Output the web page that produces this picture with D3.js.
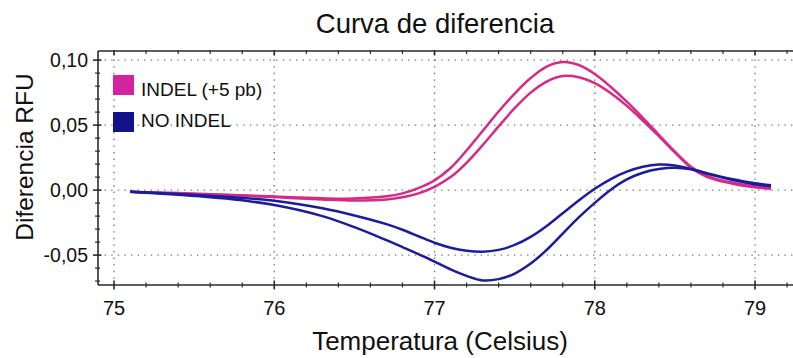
<!DOCTYPE html>
<html>
<head>
<meta charset="utf-8">
<script src="https://cdn.jsdelivr.net/npm/d3@7"></script>
<style>
  html, body { margin: 0; padding: 0; background: #fff; }
  svg { display: block; font-family: "Liberation Sans", Arial, sans-serif; }
</style>
</head>
<body>
<svg id="chart" width="793" height="358"></svg>
<script>
// Melt temperatures (°C) shared by all traces
const temps = [75.1, 75.4, 75.7, 76.0, 76.3, 76.5, 76.7, 76.8, 76.9, 77.0,
  77.1, 77.2, 77.3, 77.4, 77.5, 77.6, 77.7, 77.8, 77.9, 78.0,
  78.1, 78.2, 78.3, 78.4, 78.5, 78.6, 78.7, 78.8, 78.9, 79.0, 79.1];

// INDEL (+5 pb) replicates
const indelA = [-0.0013, -0.0023, -0.0035, -0.0050, -0.0063, -0.0065, -0.0048, -0.0025, 0.0015, 0.0075,
  0.0170, 0.0305, 0.0455, 0.0605, 0.0742, 0.0862, 0.0950, 0.0985, 0.0962, 0.0893,
  0.0793, 0.0680, 0.0556, 0.0425, 0.0295, 0.0180, 0.0110, 0.0072, 0.0048, 0.0030, 0.0015];
const indelB = [-0.0013, -0.0027, -0.0038, -0.0054, -0.0072, -0.0080, -0.0072, -0.0055, -0.0025, 0.0025,
  0.0100, 0.0210, 0.0345, 0.0490, 0.0630, 0.0750, 0.0835, 0.0877, 0.0868, 0.0822,
  0.0745, 0.0648, 0.0535, 0.0415, 0.0290, 0.0172, 0.0102, 0.0065, 0.0040, 0.0022, 0.0010];

// NO INDEL replicates
const noIndelA = [-0.0013, -0.0030, -0.0052, -0.0082, -0.0140, -0.0195, -0.0262, -0.0305, -0.0355, -0.0405,
  -0.0443, -0.0466, -0.0474, -0.0460, -0.0422, -0.0360, -0.0276, -0.0178, -0.0080, 0.0010,
  0.0085, 0.0142, 0.0180, 0.0197, 0.0190, 0.0163, 0.0130, 0.0100, 0.0075, 0.0053, 0.0037];
const noIndelB = [-0.0013, -0.0036, -0.0065, -0.0115, -0.0200, -0.0285, -0.0385, -0.0438, -0.0492, -0.0550,
  -0.0610, -0.0660, -0.0695, -0.0685, -0.0642, -0.0565, -0.0460, -0.0335, -0.0210, -0.0098,
  0.0003, 0.0082, 0.0133, 0.0162, 0.0172, 0.0160, 0.0127, 0.0095, 0.0068, 0.0045, 0.0029];

const xTicks = [75, 76, 77, 78, 79];
const yTicks = [-0.05, 0, 0.05, 0.10];
const legendLabels = ["INDEL (+5 pb)", "NO INDEL"];

const PINK = "#d62a86";
const BLUE = "#1c1ca0";
const LEGEND_PINK = "#d4239e";
const LEGEND_BLUE = "#12128c";

const svg = d3.select("#chart");
const plot = { left: 98, right: 793, top: 51, bottom: 285 };

const x = d3.scaleLinear().domain([74.9, 79.237]).range([plot.left, plot.right]);
const y = d3.scaleLinear().domain([-0.073, 0.107]).range([plot.bottom, plot.top]);

const fmtY = v => d3.format(".2f")(v).replace(".", ",").replace("−", "-");

// Dotted grid at the major ticks
const grid = svg.append("g").attr("stroke", "#7a7a7a").attr("stroke-width", 1.4)
  .attr("stroke-dasharray", "1.4,5.2").attr("stroke-linecap", "butt");
grid.selectAll("line.gx").data(xTicks).join("line")
  .attr("x1", d => x(d)).attr("x2", d => x(d))
  .attr("y1", plot.top + 2).attr("y2", plot.bottom);
grid.selectAll("line.gy").data(yTicks).join("line")
  .attr("x1", plot.left).attr("x2", plot.right)
  .attr("y1", d => y(d)).attr("y2", d => y(d));

// Curves
svg.append("clipPath").attr("id", "plotclip").append("rect")
  .attr("x", plot.left).attr("y", plot.top).attr("width", plot.right - plot.left).attr("height", plot.bottom - plot.top);

const line = d3.line().x((d, i) => x(temps[i])).y(d => y(d)).curve(d3.curveCatmullRom.alpha(0.5));
const traces = [
  { v: indelA, c: PINK },
  { v: indelB, c: PINK },
  { v: noIndelA, c: BLUE },
  { v: noIndelB, c: BLUE }
];
const curves = svg.append("g").attr("clip-path", "url(#plotclip)");
curves.selectAll("path").data(traces).join("path")
  .attr("d", d => line(d.v))
  .attr("fill", "none")
  .attr("stroke", d => d.c)
  .attr("stroke-width", 2.5)
  .attr("stroke-linejoin", "round");

// Axes: bottom (labels), left (labels), top (inner ticks)
const minorX = d3.range(74.8, 79.3, 0.2).map(v => +v.toFixed(1)).filter(v => x(v) >= plot.left && x(v) <= plot.right);
const minorY = d3.range(-0.07, 0.1001, 0.01).map(v => +v.toFixed(2)).filter(v => y(v) >= plot.top && y(v) <= plot.bottom);

const axisColor = "#2b2b2b";
const frame = svg.append("g").attr("stroke", axisColor);
frame.append("line").attr("x1", plot.left).attr("x2", plot.right).attr("y1", plot.bottom).attr("y2", plot.bottom).attr("stroke-width", 1.6);
frame.append("line").attr("x1", plot.left).attr("x2", plot.left).attr("y1", plot.top).attr("y2", plot.bottom).attr("stroke-width", 1.6);
frame.append("line").attr("x1", plot.left).attr("x2", plot.right).attr("y1", plot.top).attr("y2", plot.top).attr("stroke-width", 1.6);

const isMajorX = v => xTicks.some(t => Math.abs(t - v) < 1e-6);
const isMajorY = v => yTicks.some(t => Math.abs(t - v) < 1e-6);

// bottom ticks cross the axis line
frame.selectAll("line.bt").data(minorX).join("line")
  .attr("x1", d => x(d)).attr("x2", d => x(d))
  .attr("y1", d => plot.bottom - (isMajorX(d) ? 4.5 : 2.5))
  .attr("y2", d => plot.bottom + (isMajorX(d) ? 4.5 : 2.5))
  .attr("stroke-width", d => isMajorX(d) ? 1.6 : 1.2);
// top ticks point inward
frame.selectAll("line.tt").data(minorX).join("line")
  .attr("x1", d => x(d)).attr("x2", d => x(d))
  .attr("y1", plot.top - 1)
  .attr("y2", d => plot.top + (isMajorX(d) ? 4.5 : 3))
  .attr("stroke-width", d => isMajorX(d) ? 1.6 : 1.2);
// left ticks cross the axis line
frame.selectAll("line.lt").data(minorY).join("line")
  .attr("y1", d => y(d)).attr("y2", d => y(d))
  .attr("x1", d => plot.left - (isMajorY(d) ? 5 : 3))
  .attr("x2", d => plot.left + (isMajorY(d) ? 3.5 : 2))
  .attr("stroke-width", d => isMajorY(d) ? 1.6 : 1.2);

// Tick labels
svg.append("g").selectAll("text").data(xTicks).join("text")
  .attr("x", d => x(d)).attr("y", 315)
  .attr("text-anchor", "middle")
  .attr("font-size", 20).attr("fill", "#111")
  .text(d => d);

svg.append("g").selectAll("text").data(yTicks).join("text")
  .attr("x", 88).attr("y", d => y(d) + 7)
  .attr("text-anchor", "end")
  .attr("font-size", 19.5).attr("fill", "#111")
  .text(d => fmtY(d));

// Titles
svg.append("text").attr("x", 435).attr("y", 33).attr("text-anchor", "middle")
  .attr("font-size", 27.5).attr("fill", "#111").text("Curva de diferencia");
svg.append("text").attr("x", 440).attr("y", 350).attr("text-anchor", "middle")
  .attr("font-size", 26).attr("fill", "#111").text("Temperatura (Celsius)");
svg.append("text").attr("transform", "translate(33,157) rotate(-90)").attr("text-anchor", "middle")
  .attr("font-size", 24.5).attr("fill", "#111").text("Diferencia RFU");

// Legend
const legend = svg.append("g");
const legendColors = [LEGEND_PINK, LEGEND_BLUE];
const legendRows = [{ box: 75, base: 95.5 }, { box: 112, base: 126.5 }];
legendLabels.forEach((lab, i) => {
  legend.append("rect").attr("x", 113).attr("y", legendRows[i].box).attr("width", 21).attr("height", 20)
    .attr("fill", legendColors[i]);
  legend.append("text").attr("x", 141).attr("y", legendRows[i].base)
    .attr("font-size", 19).attr("fill", "#111").text(lab);
});
</script>
</body>
</html>
